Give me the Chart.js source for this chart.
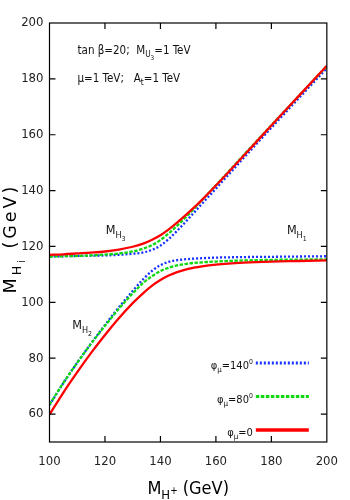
<!DOCTYPE html>
<html>
<head>
<meta charset="utf-8">
<script src="https://cdn.jsdelivr.net/npm/chart.js@4"></script>
<style>
  html, body { margin: 0; padding: 0; background: #fff; }
  canvas { display: block; }
</style>
</head>
<body>
<canvas id="higgsChart" width="350" height="500"></canvas>
<script>
// charged Higgs mass (GeV)
const mHplus = [100, 105, 110, 115, 120, 125, 130, 134, 137, 140, 143, 146, 150, 155, 160, 170, 180, 190, 200];

// phi_mu = 0 (red)
const redLow  = [59.8, 67.7, 75.0, 81.9, 88.3, 94.3, 99.7, 103.5, 106.0, 108.0, 109.6, 110.8, 112.0, 112.9, 113.5, 114.2, 114.6, 114.8, 115.0];
const redHigh = [117.0, 117.2, 117.5, 117.8, 118.2, 118.9, 119.9, 121.1, 122.4, 124.0, 126.1, 128.5, 132.0, 136.7, 141.8, 152.5, 163.3, 174.0, 184.7];

// phi_mu = 80 (green)
const greenLow  = [63.4, 71.2, 78.4, 85.2, 91.6, 97.7, 103.2, 107.1, 109.4, 111.2, 112.4, 113.2, 113.9, 114.3, 114.6, 115.0, 115.2, 115.3, 115.4];
const greenHigh = [116.4, 116.5, 116.6, 116.8, 117.1, 117.5, 118.2, 119.3, 120.5, 122.3, 124.7, 127.4, 131.3, 136.6, 141.9, 152.7, 163.4, 174.0, 184.6];

// phi_mu = 140 (blue)
const blueLow  = [63.2, 71.1, 78.4, 85.3, 91.9, 98.2, 104.1, 108.5, 111.3, 113.3, 114.5, 115.1, 115.5, 115.8, 116.0, 116.2, 116.3, 116.4, 116.5];
const blueHigh = [116.4, 116.5, 116.6, 116.7, 116.8, 117.0, 117.4, 117.9, 118.8, 120.3, 122.7, 125.6, 129.8, 135.3, 140.7, 151.7, 162.5, 173.2, 183.8];

const xTicks = [100, 120, 140, 160, 180, 200];
const yTicks = [60, 80, 100, 120, 140, 160, 180, 200];

const legendAngles = ['140', '80', '0'];

const NARROW = '"Liberation Sans Narrow", "DejaVu Sans Condensed", sans-serif';

function toPoints(arr) {
  return mHplus.map((x, i) => ({ x: x, y: arr[i] }));
}

function lineSet(label, arr, color, dash) {
  return {
    label: label,
    data: toPoints(arr),
    borderColor: color,
    borderWidth: 2.3,
    borderDash: dash,
    pointRadius: 0,
    fill: false,
    cubicInterpolationMode: 'monotone',
  };
}

const styles = {
  red:   { color: '#ff0000', dash: [] },
  green: { color: '#10d810', dash: [3.5, 1.5] },
  blue:  { color: '#1530ff', dash: [2, 2] },
};

// --- rich text with sub / superscripts ---
const levels = {
  0:  { k: 1.0,  dy: 0 },
  1:  { k: 0.72, dy: 0.28 },
  2:  { k: 0.55, dy: 0.52 },
  3:  { k: 0.55, dy: 0.02 },
  '-1': { k: 0.62, dy: -0.42 },
};

function richWidth(ctx, parts, size, fam) {
  let w = 0;
  parts.forEach(p => {
    ctx.font = (levels[p[1]].k * size) + 'px ' + fam;
    w += ctx.measureText(p[0]).width;
  });
  return w;
}

function drawRich(ctx, parts, x, y, size, fam, align) {
  const w = richWidth(ctx, parts, size, fam);
  let cx = align === 'right' ? x - w : align === 'center' ? x - w / 2 : x;
  parts.forEach(p => {
    const lv = levels[p[1]];
    ctx.font = (lv.k * size) + 'px ' + fam;
    ctx.fillText(p[0], cx, y + lv.dy * size);
    cx += ctx.measureText(p[0]).width;
  });
}

const decor = {
  id: 'decor',
  afterDraw(chart) {
    const ctx = chart.ctx;
    const xs = chart.scales.x, ys = chart.scales.y;
    const { left, right, top, bottom } = chart.chartArea;
    ctx.save();

    // frame + inner ticks (mirrored)
    ctx.strokeStyle = '#000';
    ctx.lineWidth = 1.2;
    ctx.strokeRect(left, top, right - left, bottom - top);
    ctx.beginPath();
    xTicks.forEach(v => {
      const px = xs.getPixelForValue(v);
      if (px > left + 1 && px < right - 1) {
        ctx.moveTo(px, bottom); ctx.lineTo(px, bottom - 6);
        ctx.moveTo(px, top); ctx.lineTo(px, top + 6);
      }
    });
    yTicks.forEach(v => {
      const py = ys.getPixelForValue(v);
      if (py > top + 1 && py < bottom - 1) {
        ctx.moveTo(left, py); ctx.lineTo(left + 6, py);
        ctx.moveTo(right, py); ctx.lineTo(right - 6, py);
      }
    });
    ctx.stroke();

    ctx.fillStyle = '#111';
    ctx.textBaseline = 'alphabetic';

    // parameter box
    drawRich(ctx, [['tan β=20;  M', 0], ['U', 1], ['3', 2], ['=1 TeV', 0]], left + 28, top + 31, 11.5, NARROW, 'left');
    drawRich(ctx, [['μ=1 TeV;   A', 0], ['t', 1], ['=1 TeV', 0]], left + 28, top + 59, 11.5, NARROW, 'left');

    // curve labels
    const lab = (n, x, y) => drawRich(ctx, [['M', 0], ['H', 1], [n, 2]],
      xs.getPixelForValue(x), ys.getPixelForValue(y), 12.5, NARROW, 'left');
    lab('3', 120.3, 124.3);
    lab('2', 108.2, 90.3);
    lab('1', 185.6, 124.3);

    // legend
    const legendStyles = [styles.blue, styles.green, styles.red];
    legendAngles.forEach((a, i) => {
      const ly = bottom - 79 + i * 33.5;
      const parts = [['φ', 0], ['μ', 1], ['=' + a, 0]];
      if (a !== '0') parts.push(['0', -1]);
      drawRich(ctx, parts, right - 74, ly + 6, 11, NARROW, 'right');
      ctx.save();
      ctx.strokeStyle = legendStyles[i].color;
      ctx.setLineDash(legendStyles[i].dash);
      ctx.lineWidth = i === 2 ? 3.5 : 3;
      ctx.beginPath();
      ctx.moveTo(right - 71, ly);
      ctx.lineTo(right - 18, ly);
      ctx.stroke();
      ctx.restore();
    });

    // x axis title
    ctx.fillStyle = '#000';
    drawRich(ctx, [['M', 0], ['H', 1], ['+', 3], [' (GeV)', 0]], (left + right) / 2, 494, 18, NARROW, 'center');

    // y axis title
    ctx.save();
    ctx.translate(16, (top + bottom) / 2 + 6);
    ctx.rotate(-Math.PI / 2);
    ctx.letterSpacing = '3px';
    drawRich(ctx, [['M', 0], ['H', 1], ['i', 2], [' (GeV)', 0]], 0, 0, 17.5, '"DejaVu Sans", sans-serif', 'center');
    ctx.restore();

    ctx.restore();
  }
};

new Chart(document.getElementById('higgsChart').getContext('2d'), {
  type: 'line',
  data: {
    datasets: [
      lineSet('red low', redLow, styles.red.color, styles.red.dash),
      lineSet('red high', redHigh, styles.red.color, styles.red.dash),
      lineSet('green low', greenLow, styles.green.color, styles.green.dash),
      lineSet('green high', greenHigh, styles.green.color, styles.green.dash),
      lineSet('blue low', blueLow, styles.blue.color, styles.blue.dash),
      lineSet('blue high', blueHigh, styles.blue.color, styles.blue.dash),
    ],
  },
  options: {
    responsive: false,
    animation: false,
    devicePixelRatio: 1,
    layout: { padding: { top: 23, right: 17, left: 0, bottom: 0 } },
    plugins: { legend: { display: false }, tooltip: { enabled: false } },
    scales: {
      x: {
        type: 'linear',
        min: 100, max: 200,
        grid: { display: false, drawTicks: false },
        border: { display: false },
        afterBuildTicks: s => { s.ticks = xTicks.map(v => ({ value: v })); },
        afterFit: s => { s.height = 58; },
        ticks: { padding: 12, color: '#222', font: { family: NARROW, size: 13 }, maxRotation: 0 },
      },
      y: {
        type: 'linear',
        min: 50, max: 200,
        grid: { display: false, drawTicks: false },
        border: { display: false },
        afterBuildTicks: s => { s.ticks = yTicks.map(v => ({ value: v })); },
        afterFit: s => { s.width = 49.5; },
        ticks: { padding: 6, color: '#222', font: { family: NARROW, size: 13 } },
      },
    },
  },
  plugins: [decor],
});
</script>
</body>
</html>
